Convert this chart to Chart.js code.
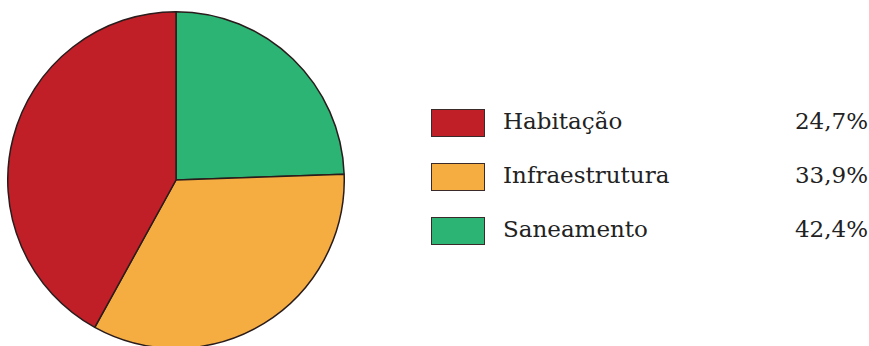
<!DOCTYPE html>
<html>
<head>
<meta charset="utf-8">
<script src="https://cdn.jsdelivr.net/npm/chart.js@4"></script>
<style>
  html, body { margin: 0; padding: 0; background: #fff; }
  #wrap { position: relative; width: 869px; height: 346px; overflow: hidden; }
  #pie-box { position: absolute; left: 7px; top: 11px; width: 338px; height: 338px; }
  .legend { position: absolute; left: 431px; top: 109px; font-family: "DejaVu Serif", serif; color: #222; }
  .row { position: relative; height: 54px; width: 437px; }
  .swatch { position: absolute; left: 0; top: 0; width: 52px; height: 26px; border: 1px solid #3a2a2a; }
  .label { position: absolute; left: 72px; top: -2px; line-height: 28px; font-size: 23px; }
  .pct { position: absolute; right: 0; top: -2px; line-height: 28px; font-size: 23px; }
</style>
</head>
<body>
<div id="wrap">
  <div id="pie-box"><canvas id="pie"></canvas></div>
  <div class="legend" id="legend"></div>
</div>
<script>
// legend rows as printed in the source
const categories = ['Habitação', 'Infraestrutura', 'Saneamento'];
const percents = [24.7, 33.9, 42.4];
const legendColors = ['#c01f28', '#f5ac40', '#2bb473'];

// slices clockwise from 12 o'clock, as drawn in the source
const sliceLabels = ['Saneamento', 'Infraestrutura', 'Habitação'];
const sliceValues = [24.7, 33.9, 42.4];
const sliceColors = ['#2bb473', '#f5ac40', '#c01f28'];

function fmt(v) {
  return v.toFixed(1).replace('.', ',') + '%';
}

new Chart(document.getElementById('pie'), {
  type: 'pie',
  data: {
    labels: sliceLabels,
    datasets: [{
      data: sliceValues,
      backgroundColor: sliceColors,
      borderColor: '#2a1c1c',
      borderWidth: 1.5,
    }],
  },
  options: {
    responsive: true,
    maintainAspectRatio: false,
    animation: false,
    layout: { padding: 0 },
    plugins: { legend: { display: false }, tooltip: { enabled: false } },
  },
});

document.getElementById('legend').innerHTML = categories
  .map((c, i) => `
    <div class="row">
      <div class="swatch" style="background:${legendColors[i]}"></div>
      <div class="label">${c}</div>
      <div class="pct">${fmt(percents[i])}</div>
    </div>`)
  .join('');
</script>
</body>
</html>
